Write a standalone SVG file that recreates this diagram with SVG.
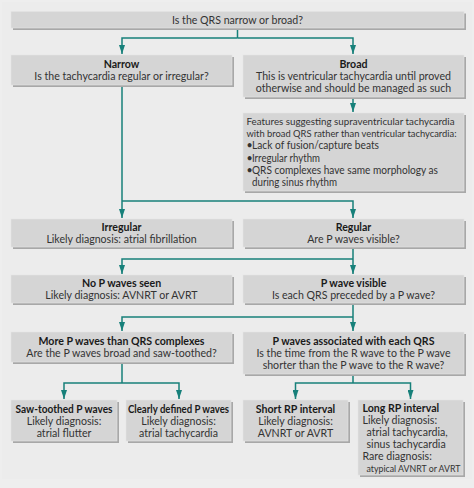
<svg xmlns="http://www.w3.org/2000/svg" width="474" height="488" viewBox="0 0 474 488">
<defs>
<marker id="arr" markerUnits="userSpaceOnUse" markerWidth="6" markerHeight="9" refX="3" refY="9" orient="0" viewBox="0 0 6 9">
<path d="M0,0 L6,0 L3,9 z" fill="#17807a"/>
</marker>
</defs>
<style>
.bg{fill:#eeeeee}
.sh{fill:#a8a8a8}
.bx{fill:#d5d5d5;stroke:#e3e3e3;stroke-width:0.6}
text{font-family:Lato,"Liberation Sans",sans-serif;font-size:10.6px;fill:#333}
.b{font-weight:bold;fill:#1a1a1a}
.c{text-anchor:middle}
.s{font-size:9.6px}
.ln{fill:none;stroke:#17807a;stroke-width:1.5}
.ar{marker-end:url(#arr)}
</style>
<rect class="bg" x="0" y="0" width="474" height="488"/>
<rect x="2" y="2" width="470" height="477" fill="#ececec"/>

<g id="connectors">
<path class="ln" d="M237.5,28 V38"/>
<path class="ln ar" d="M237.5,38 H122 V54"/>
<path class="ln ar" d="M237.5,38 H353 V54"/>
<path class="ln ar" d="M353,97 V112"/>
<path class="ln ar" d="M122,85 V201 V218"/>
<path class="ln ar" d="M122,201 H353 V218"/>
<path class="ln ar" d="M353,247 V259 V274"/>
<path class="ln ar" d="M353,259 H122 V274"/>
<path class="ln ar" d="M353,303 V317 V331"/>
<path class="ln ar" d="M353,317 H122 V331"/>
<path class="ln" d="M122,362 V383"/>
<path class="ln ar" d="M122,383 H64 V399"/>
<path class="ln ar" d="M122,383 H179 V399"/>
<path class="ln" d="M353,374 V383"/>
<path class="ln ar" d="M353,383 H295.5 V399"/>
<path class="ln ar" d="M353,383 H410.5 V399"/>
</g>

<g id="n-top">
<rect class="sh" x="13" y="13.5" width="453" height="16.5"/>
<rect class="bx" x="11" y="11.5" width="453" height="16.5"/>
<text class="c" x="237.5" y="23.5">Is the QRS narrow or broad?</text>
</g>

<g id="n-narrow">
<rect class="sh" x="13" y="57" width="221" height="30"/>
<rect class="bx" x="11" y="55" width="221" height="30"/>
<text class="c b" x="121.5" y="67.5">Narrow</text>
<text class="c" x="121.5" y="79.5">Is the tachycardia regular or irregular?</text>
</g>

<g id="n-broad">
<rect class="sh" x="245" y="57" width="221" height="42"/>
<rect class="bx" x="243" y="55" width="221" height="42"/>
<text class="c b" x="353.5" y="67.5">Broad</text>
<text class="c" x="353.5" y="79.5">This is ventricular tachycardia until proved</text>
<text class="c" x="353.5" y="91.5">otherwise and should be managed as such</text>
</g>

<g id="n-features">
<rect class="sh" x="245" y="115" width="221" height="78"/>
<rect class="bx" x="243" y="113" width="221" height="78"/>
<text class="s" x="246.5" y="125" textLength="208" lengthAdjust="spacingAndGlyphs">Features suggesting supraventricular tachycardia</text>
<text class="s" x="246.5" y="137.2" textLength="210" lengthAdjust="spacingAndGlyphs">with broad QRS rather than ventricular tachycardia:</text>
<text x="246.5" y="149.4">•</text><text x="252" y="149.4" textLength="127" lengthAdjust="spacingAndGlyphs">Lack of fusion/capture beats</text>
<text x="246.5" y="161.6">•</text><text x="252" y="161.6" textLength="68" lengthAdjust="spacingAndGlyphs">Irregular rhythm</text>
<text x="246.5" y="173.8">•</text><text x="252" y="173.8" textLength="186" lengthAdjust="spacingAndGlyphs">QRS complexes have same morphology as</text>
<text x="252" y="186" textLength="85" lengthAdjust="spacingAndGlyphs">during sinus rhythm</text>
</g>

<g id="n-irregular">
<rect class="sh" x="13" y="221" width="221" height="28"/>
<rect class="bx" x="11" y="219" width="221" height="28"/>
<text class="c b" x="121.5" y="230.5">Irregular</text>
<text class="c" x="121.5" y="242.5">Likely diagnosis: atrial fibrillation</text>
</g>

<g id="n-regular">
<rect class="sh" x="245" y="221" width="221" height="28"/>
<rect class="bx" x="243" y="219" width="221" height="28"/>
<text class="c b" x="353.5" y="230.5">Regular</text>
<text class="c" x="353.5" y="242.5">Are P waves visible?</text>
</g>

<g id="n-nop">
<rect class="sh" x="13" y="277" width="221" height="28"/>
<rect class="bx" x="11" y="275" width="221" height="28"/>
<text class="c b" x="121.5" y="286.5">No P waves seen</text>
<text class="c" x="121.5" y="298.5">Likely diagnosis: AVNRT or AVRT</text>
</g>

<g id="n-pvisible">
<rect class="sh" x="245" y="277" width="221" height="28"/>
<rect class="bx" x="243" y="275" width="221" height="28"/>
<text class="c b" x="353.5" y="286.5">P wave visible</text>
<text class="c" x="353.5" y="298.5">Is each QRS preceded by a P wave?</text>
</g>

<g id="n-morep">
<rect class="sh" x="13" y="334" width="221" height="30"/>
<rect class="bx" x="11" y="332" width="221" height="30"/>
<text class="c b" x="121.5" y="344.5">More P waves than QRS complexes</text>
<text class="c" x="121.5" y="356.5">Are the P waves broad and saw-toothed?</text>
</g>

<g id="n-passoc">
<rect class="sh" x="245" y="334" width="221" height="42"/>
<rect class="bx" x="243" y="332" width="221" height="42"/>
<text class="c b" x="353.5" y="344.5">P waves associated with each QRS</text>
<text class="c" x="353.5" y="356.5">Is the time from the R wave to the P wave</text>
<text class="c" x="353.5" y="368.5">shorter than the P wave to the R wave?</text>
</g>

<g id="n-saw">
<rect class="sh" x="13" y="402" width="106" height="41"/>
<rect class="bx" x="11" y="400" width="106" height="41"/>
<text class="c b" x="64" y="412.5" textLength="97" lengthAdjust="spacingAndGlyphs">Saw-toothed P waves</text>
<text class="c" x="64" y="424.5">Likely diagnosis:</text>
<text class="c" x="64" y="436.5">atrial flutter</text>
</g>

<g id="n-clear">
<rect class="sh" x="128" y="402" width="105" height="41"/>
<rect class="bx" x="126" y="400" width="105" height="41"/>
<text class="c b" x="178.5" y="412.5" textLength="101" lengthAdjust="spacingAndGlyphs">Clearly defined P waves</text>
<text class="c" x="178.5" y="424.5">Likely diagnosis:</text>
<text class="c" x="178.5" y="436.5">atrial tachycardia</text>
</g>

<g id="n-short">
<rect class="sh" x="245" y="402" width="105" height="41"/>
<rect class="bx" x="243" y="400" width="105" height="41"/>
<text class="c b" x="295.5" y="412.5">Short RP interval</text>
<text class="c" x="295.5" y="424.5">Likely diagnosis:</text>
<text class="c" x="295.5" y="436.5">AVNRT or AVRT</text>
</g>

<g id="n-long">
<rect class="sh" x="360" y="402" width="105" height="75"/>
<rect class="bx" x="358" y="400" width="105" height="75"/>
<text class="b" x="362.5" y="412">Long RP interval</text>
<text x="362.5" y="424">Likely diagnosis:</text>
<text x="366.5" y="436">atrial tachycardia,</text>
<text x="366.5" y="448">sinus tachycardia</text>
<text x="362.5" y="460">Rare diagnosis:</text>
<text class="s" x="366.5" y="472" textLength="94" lengthAdjust="spacingAndGlyphs">atypical AVNRT or AVRT</text>
</g>
</svg>
